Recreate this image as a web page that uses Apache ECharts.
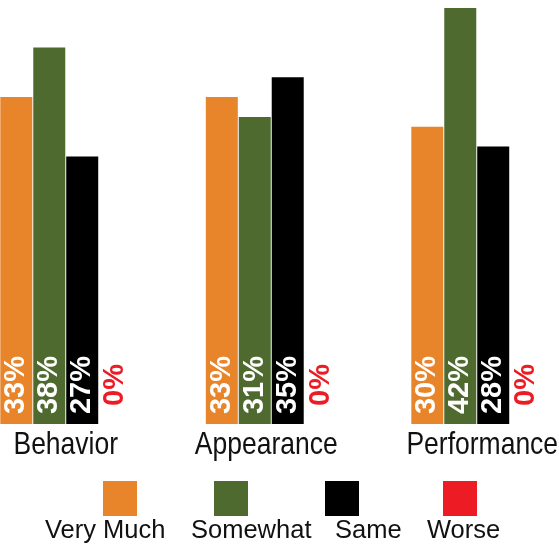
<!DOCTYPE html>
<html>
<head>
<meta charset="utf-8">
<script src="https://cdn.jsdelivr.net/npm/echarts@6/dist/echarts.min.js"></script>
<style>
html,body{margin:0;padding:0;background:#fff;}
#chart{width:559px;height:546px;}
</style>
</head>
<body>
<div id="chart"></div>
<script>
// ---- data ----
const categories = ['Behavior', 'Appearance', 'Performance'];
const seriesNames = ['Very Much', 'Somewhat', 'Same', 'Worse'];
const veryMuch = [33, 33, 30];
const somewhat = [38, 31, 42];
const same = [27, 35, 28];
const worse = [0, 0, 0];

// ---- styles ----
const colors = ['#E8842A', '#4E6A2F', '#000000', '#ED1C24'];
const labelColors = ['#ffffff', '#ffffff', '#ffffff', '#ED1C24'];
const seriesData = [veryMuch, somewhat, same, worse];

const chart = echarts.init(document.getElementById('chart'), null, {renderer: 'canvas'});

const series = seriesNames.map((name, i) => ({
  name: name,
  type: 'bar',
  data: seriesData[i],
  barWidth: 32,
  barGap: '3%',
  itemStyle: {color: colors[i]},
  label: {
    show: true,
    position: 'insideBottom',
    distance: 39,
    rotate: 90,
    align: 'center',
    verticalAlign: 'middle',
    formatter: '{c}%',
    color: labelColors[i],
    fontFamily: "'Liberation Sans', Arial, sans-serif",
    fontWeight: 'bold',
    fontSize: 29
  },
  emphasis: {disabled: true},
  animation: false
}));

// legend built as graphic elements (squares with labels beneath)
const legendSquareX = [103, 214, 325, 443];
const legendTextX = [45, 191, 335, 427];
const graphics = [];
seriesNames.forEach((name, i) => {
  graphics.push({
    type: 'rect',
    shape: {x: legendSquareX[i], y: 481, width: 34, height: 35},
    style: {fill: colors[i]}
  });
  graphics.push({
    type: 'text',
    x: legendTextX[i],
    y: 531,
    style: {
      text: name,
      fill: '#111',
      font: "25.5px 'Liberation Sans', Arial, sans-serif",
      textAlign: 'left',
      textVerticalAlign: 'middle'
    }
  });
});

chart.setOption({
  animation: false,
  backgroundColor: '#ffffff',
  grid: {left: -37, width: 616.5, top: 0, bottom: 122, containLabel: false, outerBoundsMode: 'none'},
  xAxis: {
    type: 'category',
    data: categories,
    axisLine: {show: false},
    axisTick: {show: false},
    axisLabel: {show: false}
  },
  yAxis: {
    type: 'value',
    min: 0,
    max: 42.8,
    show: false,
    splitLine: {show: false}
  },
  series: series,
  graphic: graphics
});

// category labels: real text, slightly stretched vertically like the reference
const catLabelShift = [0, -5, 5.5];
const catGraphics = categories.map((c, i) => {
  const px = chart.convertToPixel({xAxisIndex: 0}, c);
  return {
    type: 'text',
    x: px + catLabelShift[i],
    y: 446,
    scaleY: 1.15,
    style: {
      text: c,
      fill: '#111',
      font: "26.5px 'Liberation Sans', Arial, sans-serif",
      textAlign: 'center',
      textVerticalAlign: 'middle'
    }
  };
});
chart.setOption({graphic: graphics.concat(catGraphics)});
</script>
</body>
</html>
